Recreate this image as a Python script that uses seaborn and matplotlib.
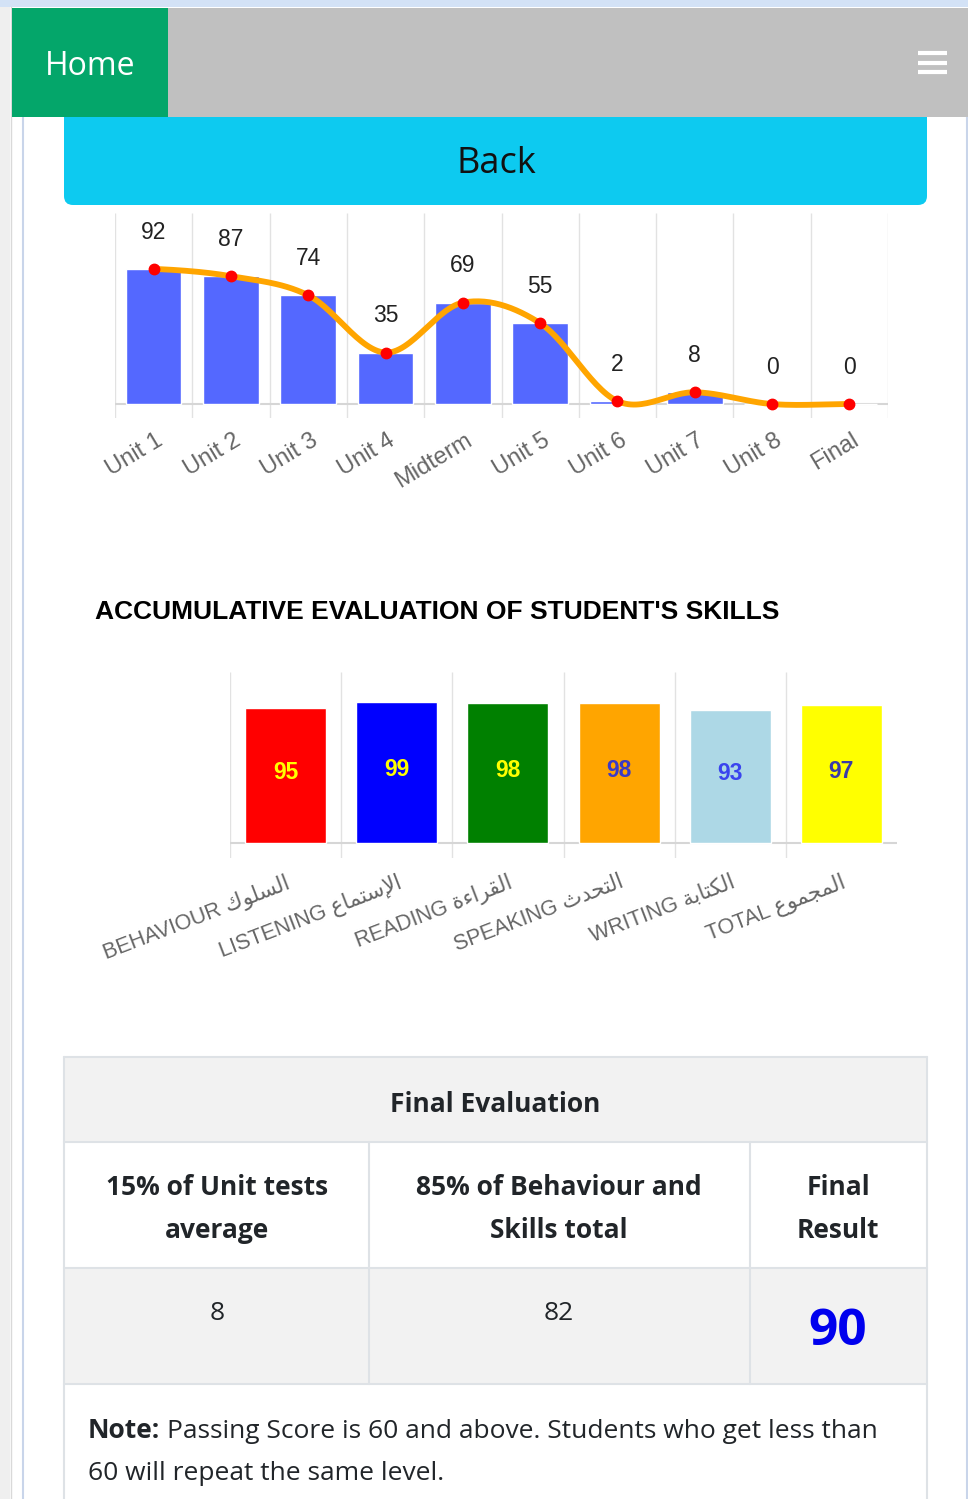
import numpy as np
import pandas as pd
import seaborn as sns
import matplotlib.pyplot as plt
from matplotlib.patches import Rectangle, FancyBboxPatch
from matplotlib.transforms import ScaledTranslation

# unit tests chart
units = ['Unit 1', 'Unit 2', 'Unit 3', 'Unit 4', 'Midterm', 'Unit 5', 'Unit 6', 'Unit 7', 'Unit 8', 'Final']
unit_scores = [92, 87, 74, 35, 69, 55, 2, 8, 0, 0]

# skills chart (arabic already shaped + in visual order, matplotlib has no shaping)
skills_en = ['BEHAVIOUR', 'LISTENING', 'READING', 'SPEAKING', 'WRITING', 'TOTAL']
skills_ar = ['\ufed9\ufeee\ufee0\ufeb4\ufedf\ufe8d',
             '\ufec9\ufe8e\ufee4\ufe98\ufeb3\ufef9\ufe8d',
             '\ufe93\ufe80\ufe8d\ufeae\ufed8\ufedf\ufe8d',
             '\ufe99\ufeaa\ufea4\ufe98\ufedf\ufe8d',
             '\ufe94\ufe91\ufe8e\ufe98\ufedc\ufedf\ufe8d',
             '\ufec9\ufeee\ufee4\ufea0\ufee4\ufedf\ufe8d']
skill_scores = [95, 99, 98, 98, 93, 97]
skill_colors = ['#ff0000', '#0000ff', '#008000', '#ffa500', '#add8e6', '#ffff00']
label_colors = ['#ffff00', '#ffff00', '#ffff00', '#3a3ac8', '#3a44ee', '#3a3aa8']

# final evaluation table
col_headers = ['15% of Unit tests\naverage', '85% of Behaviour and\nSkills total', 'Final\nResult']
unit_part = 8
skills_part = 82
final_result = 90

sns.set_theme(style='white')
plt.rcParams['font.family'] = ['Liberation Sans', 'DejaVu Sans']

W, H = 968, 1499
fig = plt.figure(figsize=(W / 100, H / 100), dpi=100)
bg = fig.add_axes([0, 0, 1, 1])
bg.set_xlim(0, W)
bg.set_ylim(H, 0)
bg.axis('off')


def px_axes(x0, y0, x1, y1):
    a = fig.add_axes([x0 / W, 1 - y1 / H, (x1 - x0) / W, (y1 - y0) / H])
    a.patch.set_alpha(0)
    return a


page_font = 'Open Sans'

# page chrome
bg.add_patch(Rectangle((0, 0), 10, H, color='#efefef', lw=0))
bg.add_patch(Rectangle((0, 0), W, 7, color='#d3e2f6', lw=0))
bg.plot([11, 11], [7, H], color='#d9d9d9', lw=1)
bg.plot([22.5, 22.5], [117, H], color='#c9d5ea', lw=1.5)
bg.plot([966.5, 966.5], [117, H], color='#c9d5ea', lw=1.5)
bg.add_patch(FancyBboxPatch((64, 100), 863, 105, boxstyle='round,pad=0,rounding_size=9',
                            color='#0dcaf0', lw=0, zorder=1))
bg.add_patch(Rectangle((12, 8), W - 12, 109, color='#c0c0c0', lw=0, zorder=2))
bg.add_patch(Rectangle((12, 8), 156, 109, color='#04a66a', lw=0, zorder=3))
bg.text(90, 66, 'Home', color='white', fontsize=23, ha='center', va='center',
        family=page_font, zorder=4)
for yy in [53, 63, 72]:
    bg.plot([918, 947], [yy, yy], color='white', lw=3, solid_capstyle='butt', zorder=4)
bg.text(496, 164, 'Back', color='#111111', fontsize=26, ha='center', va='center',
        family=page_font, zorder=4)

# ---- chart 1: unit tests
ax1 = px_axes(115, 213, 888, 418)
df1 = pd.DataFrame({'unit': units, 'score': unit_scores})
ax1.vlines(np.arange(-0.5, len(units) + 0.5), -9.5, 130, color='#e2e2e2', lw=1, zorder=0)
ax1.axhline(0, color='#d6d6d6', lw=1.5, zorder=1)
sns.barplot(data=df1, x='unit', y='score', color='#5468ff', saturation=1, width=0.72,
            ax=ax1, zorder=2)

# smooth curve through the points (catmull-rom)
xs = np.arange(len(unit_scores), dtype=float)
ys = np.array(unit_scores, dtype=float)
px = np.r_[xs[0] - 1, xs, xs[-1] + 1]
py = np.r_[ys[0], ys, ys[-1]]
cx, cy = [], []
for i in range(1, len(px) - 2):
    t = np.linspace(0, 1, 30)[:, None]
    p0, p1, p2, p3 = [np.array([px[j], py[j]]) for j in (i - 1, i, i + 1, i + 2)]
    seg = 0.5 * (2 * p1 + (-p0 + p2) * t + (2 * p0 - 5 * p1 + 4 * p2 - p3) * t ** 2
                 + (-p0 + 3 * p1 - 3 * p2 + p3) * t ** 3)
    cx.extend(seg[:, 0])
    cy.extend(seg[:, 1])
ax1.plot(cx, cy, color='#ffa500', lw=4.2, zorder=3, solid_capstyle='round')
ax1.plot(xs, ys, 'o', color='#ff0000', ms=7.5, zorder=4)

for i, v in enumerate(unit_scores):
    ax1.annotate(str(v), (i, v), xytext=(0, 26.5), textcoords='offset points',
                 ha='center', va='center', fontsize=16.5, color='#222222')

ax1.set_xlim(-0.5, len(units) - 0.5)
ax1.set_ylim(-9.5, 130)
ax1.set_yticks([])
ax1.set_xlabel('')
ax1.set_ylabel('')
sns.despine(ax=ax1, left=True, bottom=True)
ax1.tick_params(axis='x', length=0, pad=8, labelsize=17, labelcolor='#666666')
ax1.set_xticks(range(len(units)))
ax1.set_xticklabels(units, rotation=31, ha='right', rotation_mode='anchor')
for lab in ax1.get_xticklabels():
    lab.set_transform(lab.get_transform() + ScaledTranslation(0.02, 0, fig.dpi_scale_trans))

# ---- title
bg.text(95, 612, "ACCUMULATIVE EVALUATION OF STUDENT'S SKILLS", fontsize=19,
        fontweight='bold', color='#000000', ha='left', va='center')

# ---- chart 2: skills
ax2 = px_axes(230, 672, 897, 858)
df2 = pd.DataFrame({'skill': [f'{e} {a}' for e, a in zip(skills_en, skills_ar)],
                    'score': skill_scores})
ax2.vlines(np.arange(-0.5, len(skills_en) - 0.5), -10.5, 120, color='#e2e2e2', lw=1, zorder=0)
ax2.axhline(0, color='#d6d6d6', lw=1.5, zorder=1)
sns.barplot(data=df2, x='skill', y='score', hue='skill', palette=skill_colors, saturation=1,
            legend=False, width=0.73, ax=ax2, zorder=2)
for i, v in enumerate(skill_scores):
    ax2.text(i, v / 2 + 2, str(v), ha='center', va='center', fontsize=16.5,
             fontweight='bold', color=label_colors[i], zorder=5)
ax2.set_xlim(-0.5, len(skills_en) - 0.5)
ax2.set_ylim(-10.5, 120)
ax2.set_yticks([])
ax2.set_xlabel('')
ax2.set_ylabel('')
sns.despine(ax=ax2, left=True, bottom=True)
ax2.tick_params(axis='x', length=0, pad=10, labelsize=15.5, labelcolor='#666666')
ax2.set_xticks(range(len(skills_en)))
ax2.set_xticklabels(df2['skill'], rotation=21, ha='right', rotation_mode='anchor')

# ---- table
border = '#dee2e6'
bg.add_patch(Rectangle((64, 1057), 863, 85, facecolor='#f2f2f2', edgecolor='none'))
bg.add_patch(Rectangle((64, 1268), 863, 116, facecolor='#f2f2f2', edgecolor='none'))
for yy in [1057, 1142, 1268, 1384]:
    bg.plot([64, 927], [yy, yy], color=border, lw=1.5)
for xx in [64, 927]:
    bg.plot([xx, xx], [1057, H], color=border, lw=1.5)
for xx in [369, 750]:
    bg.plot([xx, xx], [1142, 1384], color=border, lw=1.5)

txt = '#212529'
bg.text(495, 1104, 'Final Evaluation', fontsize=19, fontweight='bold', color=txt,
        ha='center', va='center', family=page_font)
for cxp, head in zip([217, 559, 838], col_headers):
    bg.text(cxp, 1209, head, fontsize=19, fontweight='bold', color=txt, ha='center',
            va='center', family=page_font, linespacing=1.8)
bg.text(217, 1313, str(unit_part), fontsize=19, color=txt, ha='center', va='center',
        family=page_font)
bg.text(559, 1313, str(skills_part), fontsize=19, color=txt, ha='center', va='center',
        family=page_font)
bg.text(838, 1332, str(final_result), fontsize=37, fontweight='bold', color='#0000ee',
        ha='center', va='center', family=page_font)

note_b = bg.text(88, 1431, 'Note:', fontsize=19, fontweight='bold', color=txt, ha='left',
                 va='center', family=page_font)
fig.canvas.draw()
bb = note_b.get_window_extent(renderer=fig.canvas.get_renderer())
bg.text(bb.x1 + 7, 1431, 'Passing Score is 60 and above. Students who get less than',
        fontsize=19, color=txt, ha='left', va='center', family=page_font)
bg.text(88, 1473, '60 will repeat the same level.', fontsize=19, color=txt, ha='left',
        va='center', family=page_font)

fig.savefig('out.png', dpi=100)
